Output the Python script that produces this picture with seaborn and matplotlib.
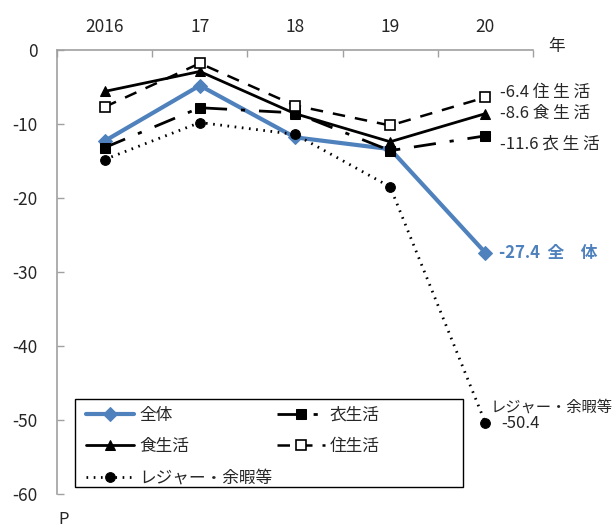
import matplotlib
matplotlib.use("Agg")
import matplotlib.pyplot as plt
from matplotlib.patches import Rectangle
import seaborn as sns
import numpy as np

# Year labels along the top axis
years = ["2016", "17", "18", "19", "20"]

# Year-on-year change (%) by category
total = [-12.3, -4.8, -11.8, -13.4, -27.4]      # 全体
food = [-5.6, -2.9, -8.6, -12.4, -8.6]          # 食生活
clothing = [-13.2, -7.8, -8.5, -13.6, -11.6]    # 衣生活
housing = [-7.7, -1.8, -7.5, -10.2, -6.4]       # 住生活
leisure = [-14.8, -9.8, -11.4, -18.5, -50.4]    # レジャー・余暇等

sns.set_theme(style="white")
plt.rcParams["font.family"] = ["Noto Sans CJK JP", "DejaVu Sans"]
plt.rcParams["axes.unicode_minus"] = False

W, H = 614, 528
fig = plt.figure(figsize=(W / 100, H / 100), dpi=100)
ax = fig.add_axes([57 / W, 1 - 494 / H, (533 - 57) / W, (494 - 50) / H])

x = np.arange(len(years))
blue = "#4F81BD"

sns.lineplot(x=x, y=total, ax=ax, color=blue, lw=3, marker="D", markersize=7,
             markeredgecolor=blue, label="全体", zorder=2)
sns.lineplot(x=x, y=food, ax=ax, color="black", lw=2, marker="^", markersize=7,
             markeredgecolor="black", label="食生活", zorder=3)
sns.lineplot(x=x, y=leisure, ax=ax, color="black", lw=2, marker="o", markersize=7,
             markeredgecolor="black", label="レジャー・余暇等", zorder=3)
ax.lines[-1].set_linestyle((0, (0.6, 2.0)))
sns.lineplot(x=x, y=clothing, ax=ax, color="black", lw=2, marker="s", markersize=7,
             markeredgecolor="black", label="衣生活", zorder=3)
ax.lines[-1].set_linestyle((0, (8, 5, 1.5, 5)))
sns.lineplot(x=x, y=housing, ax=ax, color="black", lw=1.8, marker="s", markersize=7,
             markerfacecolor="white", markeredgecolor="black", markeredgewidth=1.2,
             label="住生活", zorder=4)
ax.lines[-1].set_linestyle((0, (5, 4)))

ax.set_xlim(-0.5, len(years) - 0.5)
ax.set_ylim(-60, 0)
ax.set_xlabel("")
ax.set_ylabel("")

# Category labels on top, tick marks at category boundaries
ax.xaxis.tick_top()
ax.set_xticks(x)
ax.set_xticklabels(years, fontsize=12.5)
ax.set_xticks(np.arange(-0.5, len(years)), minor=True)
ax.tick_params(axis="x", which="major", length=0, pad=10)
ax.tick_params(axis="x", which="minor", top=True, bottom=False, direction="in",
               length=5, width=1, color="#A0A0A0")

ax.set_yticks(np.arange(-60, 1, 10))
ax.set_yticklabels([str(v) for v in range(-60, 1, 10)], fontsize=12.5)
ax.tick_params(axis="y", left=True, direction="in", length=5, width=1,
               color="#A0A0A0", pad=14)

for side in ["right", "bottom"]:
    ax.spines[side].set_visible(False)
for side in ["top", "left"]:
    ax.spines[side].set_color("#A0A0A0")
    ax.spines[side].set_linewidth(1.2)

# End-of-line value labels
ax.text(4.15, housing[-1] + 0.6, "-6.4 住 生 活", fontsize=12, va="center", ha="left")
ax.text(4.15, food[-1] + 0.0, "-8.6 食 生 活", fontsize=12, va="center", ha="left")
ax.text(4.15, clothing[-1] - 1.1, "-11.6 衣 生 活", fontsize=12, va="center", ha="left")
ax.text(4.14, total[-1], "-27.4  全　体", fontsize=12, va="center", ha="left",
        color=blue, fontweight="bold")
ax.text(4.05, leisure[-1] + 2.2, "レジャー・余暇等", fontsize=11, va="center", ha="left")
ax.text(4.17, leisure[-1] - 0.1, "-50.4", fontsize=12, va="center", ha="left")

fig.text(548 / W, 1 - 47 / H, "年", fontsize=12, ha="left", va="center")
fig.text(58 / W, 1 - 520 / H, "P", fontsize=12, ha="left", va="center")

# Legend entries without their own frame; a fixed box is drawn around them
handles, labels = ax.get_legend_handles_labels()
ax.get_legend().remove()
leg = fig.legend(handles, labels, ncol=2, loc="upper left",
                 bbox_to_anchor=(86 / W, 1 - 407 / H), borderaxespad=0,
                 frameon=False, fontsize=12, handlelength=2.9,
                 columnspacing=0.25, labelspacing=0.85, borderpad=0,
                 handletextpad=0.3)
fig.add_artist(Rectangle((75 / W, 1 - 487 / H), (463 - 75) / W, (487 - 399) / H,
                         transform=fig.transFigure, fill=False,
                         edgecolor="black", lw=1.0, zorder=5))

fig.savefig("out.png", dpi=100)
